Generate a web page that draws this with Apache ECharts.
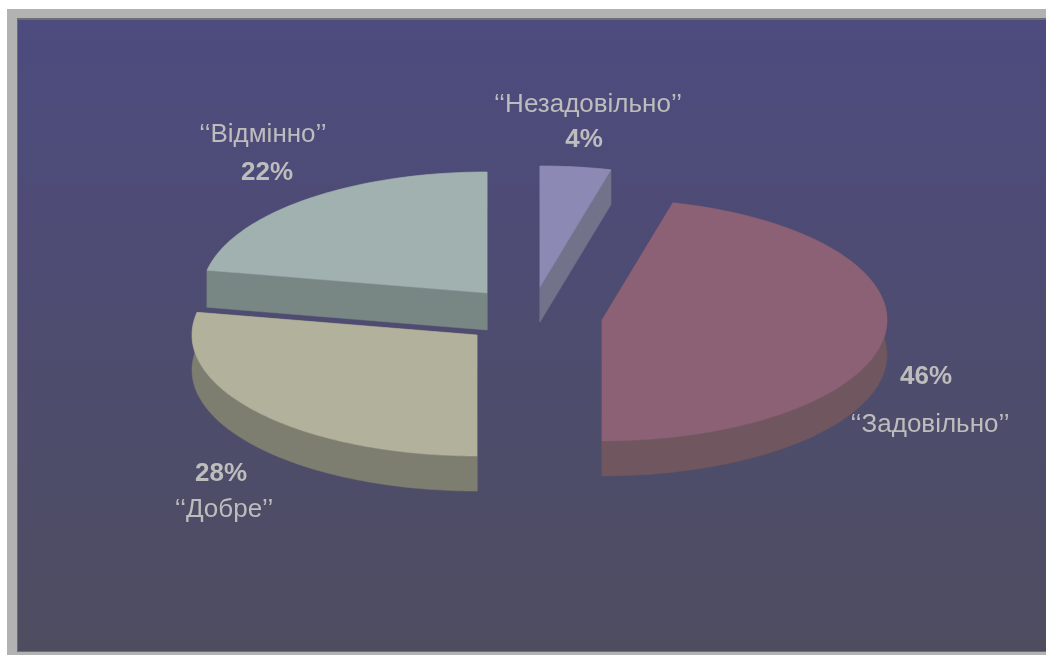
<!DOCTYPE html>
<html><head><meta charset="utf-8">
<style>html,body{margin:0;padding:0;background:#fff}#c{width:1046px;height:655px}</style>
<script src="https://cdn.jsdelivr.net/npm/echarts@6/dist/echarts.min.js"></script>
</head><body><div id="c"></div>
<script>
const categories = ['‘‘Незадовільно’’', '‘‘Задовільно’’', '‘‘Добре’’', '‘‘Відмінно’’'];
const shares = [4, 46, 28, 22];

// Presentation only: slice placement and colours
const RX = 285, RY = 121;
const depths = [35, 35, 35, 37];
const apex = [[540, 287], [602, 320], [477, 335], [487, 293]];
const topColors = ['#8c8ab4', '#8d6175', '#b2b19c', '#a0b1b0'];
const sideColors = ['#72738a', '#6f565f', '#7e7e70', '#788684'];
const labelPos = [
  {name: [588, 105], pct: [584, 140]},
  {name: [930, 425], pct: [926, 377]},
  {name: [224, 510], pct: [221, 474]},
  {name: [263, 135], pct: [267, 173]}
];
const TEXT = '#bdbdbd', FONT = '"Liberation Sans", Arial, sans-serif';

const total = shares.reduce((a, b) => a + b, 0);
let running = 0;
const rows = shares.map(v => { const r = [v, running]; running += v; return r; });

function point(c, deg, dy) {
  const a = deg * Math.PI / 180;
  return [c[0] + RX * Math.sin(a), c[1] - RY * Math.cos(a) + (dy || 0)];
}
function arc(c, from, to, dy) {
  const pts = [], n = Math.max(2, Math.ceil(Math.abs(to - from)));
  for (let i = 0; i <= n; i++) pts.push(point(c, from + (to - from) * i / n, dy));
  return pts;
}
function poly(points, fill, z2) {
  return {type: 'polygon', z2, shape: {points}, style: {fill, stroke: fill, lineWidth: 0.5}};
}
function renderItem(params, api) {
  const i = params.dataIndex, v = api.value(0), s = api.value(1);
  const from = s / total * 360, to = (s + v) / total * 360, c = apex[i], d = depths[i];
  const c2 = [c[0], c[1] + d];
  const top = arc(c, from, to);
  const outer = top.concat(arc(c, to, from, d));
  const children = [
    poly([c, point(c, from), point(c, from, d), c2], sideColors[i], 1),
    poly([c, point(c, to), point(c, to, d), c2], sideColors[i], 1),
    poly(outer, sideColors[i], 1),
    poly([c].concat(top), topColors[i], 2)
  ];
  const lp = labelPos[i];
  children.push({type: 'text', z2: 3, style: {x: lp.name[0], y: lp.name[1], text: categories[i],
    fill: TEXT, font: '26px ' + FONT, align: 'center', verticalAlign: 'middle'}});
  children.push({type: 'text', z2: 3, style: {x: lp.pct[0], y: lp.pct[1], text: Math.round(v / total * 100) + '%',
    fill: TEXT, font: 'bold 26px ' + FONT, align: 'center', verticalAlign: 'middle'}});
  return {type: 'group', children};
}

const chart = echarts.init(document.getElementById('c'), null, {renderer: 'canvas'});
chart.setOption({
  animation: false,
  backgroundColor: '#ffffff',
  graphic: {elements: [
    {type: 'rect', z: -10, shape: {x: 7, y: 9, width: 1039, height: 646}, style: {fill: '#b2b2b2'}},
    {type: 'rect', z: -9, shape: {x: 17, y: 18, width: 1029, height: 634}, style: {fill: '#6d6d72'}},
    {type: 'rect', z: -8, shape: {x: 18, y: 20, width: 1028, height: 631},
      style: {fill: new echarts.graphic.LinearGradient(0, 0, 0, 1, [
        {offset: 0, color: '#4d4b7f'}, {offset: 1, color: '#4e4d60'}])}}
  ]},
  series: [{type: 'custom', coordinateSystem: 'none', renderItem, data: rows, silent: true}]
});
</script></body></html>
